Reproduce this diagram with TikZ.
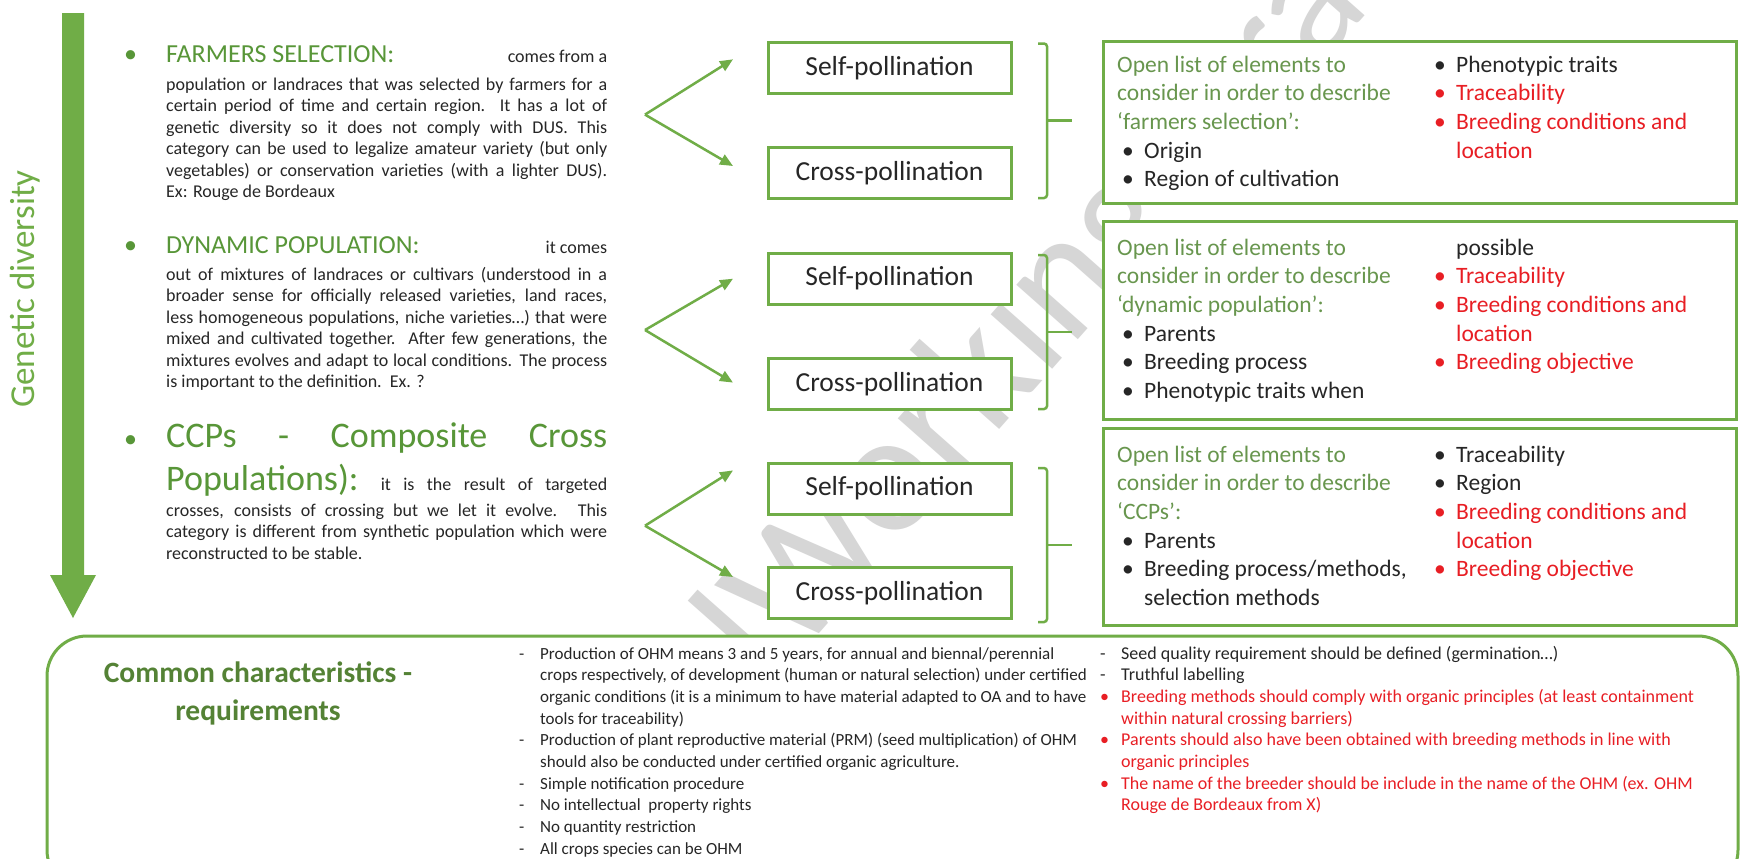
\documentclass[tikz,border=0pt]{standalone}
\usepackage{fontspec}
\setmainfont{Carlito}
\usetikzlibrary{arrows.meta}
\definecolor{agreen}{RGB}{112,173,71}
\definecolor{hgreen}{RGB}{88,150,56}
\definecolor{ogreen}{RGB}{104,150,78}
\definecolor{dgreen}{RGB}{84,130,53}
\definecolor{txt}{RGB}{38,38,38}
\definecolor{rd}{RGB}{232,30,36}
\definecolor{wmgray}{RGB}{214,214,214}
\newcommand\bodyfont{\fontsize{18bp}{21.5bp}\selectfont}
\newcommand\headfont{\fontsize{26bp}{30bp}\selectfont}
\newcommand\bigheadfont{\fontsize{36bp}{40bp}\selectfont}
\newcommand\boxfont{\fontsize{23.5bp}{28.7bp}\selectfont}
\newcommand\leftlistfont{\fontsize{17bp}{21.7bp}\selectfont}
\newcommand\rightlistfont{\fontsize{18bp}{21.7bp}\selectfont}
\newcommand\jline[1]{\makebox[\linewidth][s]{#1}}
\newcommand\bul[1]{\makebox[22bp][l]{#1}}
\newcommand\bulb[1]{\makebox[21bp][l]{#1}}
\tikzset{
  polbox/.style={draw=agreen, fill=white, line width=3bp, minimum width=243bp, minimum height=51bp, inner sep=0pt, font=\fontsize{27.5bp}{32bp}\selectfont, text=txt},
  listframe/.style={draw=agreen, fill=white, line width=3bp},
  para/.style={anchor=base west, inner sep=0pt, text=txt},
  chev/.style={draw=agreen, line width=2.5bp, -{Triangle[length=13bp,width=11bp]}},
  brack/.style={draw=agreen, line width=2.5bp, rounded corners=3bp},
  wm/.style={text=wmgray, rotate=48.5, inner sep=0pt, font=\fontsize{172bp}{176bp}\selectfont},
  headbullet/.style={anchor=base west, inner sep=0pt, text=hgreen, font=\headfont},
}
\begin{document}
\begin{tikzpicture}[x=1bp,y=-1bp]
\useasboundingbox (0,0) rectangle (1740,859);
\fill[white] (0,0) rectangle (1740,859);
% watermark (partly covered by the white boxes)
\begin{scope}
\clip (0,0) rectangle (1740,859);
\node[wm, anchor=base] (wmw) at (990,440) {Working};
\node[wm, anchor=base east] (wml) at (wmw.base west) {Informal\ };
\node[wm, anchor=base west] (wmr) at (wmw.base east) {\ Draft};
\end{scope}

% genetic diversity arrow
\fill[agreen] (62,13) -- (84,13) -- (84,575) -- (96,575) -- (73,618) -- (50,575) -- (62,575) -- cycle;
\node[rotate=90, text=agreen, font=\fontsize{35bp}{40bp}\selectfont, inner sep=0pt] (gd) at (25,289) {Genetic diversity};

% item 1
\node[headbullet] (b1) at (124,62) {•};
\node[para] (h1) at (166,62) {\makebox[441bp][s]{\color{hgreen}\headfont FARMERS SELECTION:\hfill\color{txt}\bodyfont comes from a}};
\node[para] (p1) at (166,90) {\parbox[t]{441bp}{\bodyfont
\jline{population or landraces that was selected by farmers for a}\\
\jline{certain period of time and certain region. It has a lot of}\\
\jline{genetic diversity so it does not comply with DUS. This}\\
\jline{category can be used to legalize amateur variety (but only}\\
\jline{vegetables) or conservation varieties (with a lighter DUS).}\\
Ex: Rouge de Bordeaux}};

% item 2
\node[headbullet] (b2) at (124,253.5) {•};
\node[para] (h2) at (166,253.5) {\makebox[441bp][s]{\color{hgreen}\headfont DYNAMIC POPULATION:\hfill\color{txt}\bodyfont it comes}};
\node[para] (p2) at (166,280) {\parbox[t]{441bp}{\bodyfont
\jline{out of mixtures of landraces or cultivars (understood in a}\\
\jline{broader sense for officially released varieties, land races,}\\
\jline{less homogeneous populations, niche varieties…) that were}\\
\jline{mixed and cultivated together. After few generations, the}\\
\jline{mixtures evolves and adapt to local conditions. The process}\\
is important to the definition.\ \ Ex. ?}};

% item 3
\node[headbullet] (b3) at (124,447) {•};
\node[para] (h3) at (166,447) {\makebox[441bp][s]{\color{hgreen}\bigheadfont CCPs - Composite Cross}};
\node[para] (h3b) at (166,490) {\makebox[441bp][s]{\color{hgreen}\bigheadfont Populations):\color{txt}\bodyfont{} it is the result of targeted}};
\node[para] (p3) at (166,516) {\parbox[t]{441bp}{\bodyfont
\jline{crosses, consists of crossing but we let it evolve. This}\\
\jline{category is different from synthetic population which were}\\
reconstructed to be stable.}};

% pollination boxes
\node[polbox] (s1) at (889.5,68) {Self-pollination};
\node[polbox] (c1) at (889.5,173) {Cross-pollination};
\node[polbox] (s2) at (889.5,278.5) {Self-pollination};
\node[polbox] (c2) at (889.5,384) {Cross-pollination};
\node[polbox] (s3) at (889.5,488.5) {Self-pollination};
\node[polbox] (c3) at (889.5,593) {Cross-pollination};

% chevron arrows
\coordinate (v1) at (645,114.6);
\coordinate (t1a) at (733,59.3);
\coordinate (t1b) at (733,166);
\coordinate (v2) at (645,330);
\coordinate (t2a) at (733,278.7);
\coordinate (t2b) at (733,382.6);
\coordinate (v3) at (645,525.7);
\coordinate (t3a) at (733,470.4);
\coordinate (t3b) at (733,577);
\draw[chev] (v1) -- (t1a);
\draw[chev] (v1) -- (t1b);
\draw[chev] (v2) -- (t2a);
\draw[chev] (v2) -- (t2b);
\draw[chev] (v3) -- (t3a);
\draw[chev] (v3) -- (t3b);

% brackets
\draw[brack] (1038,43.5) -- (1047,43.5) -- (1047,198) -- (1038,198);
\draw[agreen, line width=2.5bp] (1047,120.7) -- (1072,120.7);
\draw[brack] (1038,255) -- (1047,255) -- (1047,409) -- (1038,409);
\draw[agreen, line width=2.5bp] (1047,332) -- (1072,332);
\draw[brack] (1038,468) -- (1047,468) -- (1047,622) -- (1038,622);
\draw[agreen, line width=2.5bp] (1047,545) -- (1072,545);

% right boxes
\draw[listframe] (1103,41) rectangle (1736,203);
\draw[listframe] (1103,221) rectangle (1736,419);
\draw[listframe] (1103,428) rectangle (1736,625);

\node[para] (l1) at (1117,72) {\parbox[t]{310bp}{\leavevmode\boxfont\color{ogreen}Open list of elements to\\
consider in order to describe\\
‘farmers selection’:\\
\color{txt}\hspace*{5bp}\bul{•}Origin\\
\hspace*{5bp}\bul{•}Region of cultivation}};
\node[para] (r1) at (1434,72) {\parbox[t]{295bp}{\boxfont\bul{•}Phenotypic traits\\
\color{rd}\bul{•}Traceability\\
\bul{•}Breeding conditions and\\
\hspace*{22bp}location}};

\node[para] (l2) at (1117,255) {\parbox[t]{310bp}{\leavevmode\boxfont\color{ogreen}Open list of elements to\\
consider in order to describe\\
‘dynamic population’:\\
\color{txt}\hspace*{5bp}\bul{•}Parents\\
\hspace*{5bp}\bul{•}Breeding process\\
\hspace*{5bp}\bul{•}Phenotypic traits when}};
\node[para] (r2) at (1434,255) {\parbox[t]{295bp}{\boxfont\hspace*{22bp}possible\\
\color{rd}\bul{•}Traceability\\
\bul{•}Breeding conditions and\\
\hspace*{22bp}location\\
\bul{•}Breeding objective}};

\node[para] (l3) at (1117,462) {\parbox[t]{310bp}{\leavevmode\boxfont\color{ogreen}Open list of elements to\\
consider in order to describe\\
‘CCPs’:\\
\color{txt}\hspace*{5bp}\bul{•}Parents\\
\hspace*{5bp}\bul{•}Breeding process/methods,\\
\hspace*{27bp}selection methods}};
\node[para] (r3) at (1434,462) {\parbox[t]{295bp}{\boxfont\bul{•}Traceability\\
\bul{•}Region\\
\color{rd}\bul{•}Breeding conditions and\\
\hspace*{22bp}location\\
\bul{•}Breeding objective}};

% bottom box
\draw[agreen, fill=white, line width=3bp, rounded corners=40bp] (47,636) rectangle (1738,890);
\node[text=dgreen, align=center, inner sep=0pt, font=\fontsize{29.5bp}{38bp}\selectfont\bfseries] (cc) at (258,693) {Common characteristics -\\requirements};

\node[para] (bl) at (519,659) {\parbox[t]{575bp}{\leftlistfont
\bulb{-}Production of OHM means 3 and 5 years, for annual and biennal/perennial\\
\hspace*{21bp}crops respectively, of development (human or natural selection) under certified\\
\hspace*{21bp}organic conditions (it is a minimum to have material adapted to OA and to have\\
\hspace*{21bp}tools for traceability)\\
\bulb{-}Production of plant reproductive material (PRM) (seed multiplication) of OHM\\
\hspace*{21bp}should also be conducted under certified organic agriculture.\\
\bulb{-}Simple notification procedure\\
\bulb{-}No intellectual\ \ property rights\\
\bulb{-}No quantity restriction\\
\bulb{-}All crops species can be OHM}};

\node[para] (br) at (1100,659) {\parbox[t]{615bp}{\rightlistfont
\bulb{-}Seed quality requirement should be defined (germination…)\\
\bulb{-}Truthful labelling\\
\color{rd}\bulb{•}Breeding methods should comply with organic principles (at least containment\\
\hspace*{21bp}within natural crossing barriers)\\
\bulb{•}Parents should also have been obtained with breeding methods in line with\\
\hspace*{21bp}organic principles\\
\bulb{•}The name of the breeder should be include in the name of the OHM (ex. OHM\\
\hspace*{21bp}Rouge de Bordeaux from X)}};
\end{tikzpicture}
\end{document}
